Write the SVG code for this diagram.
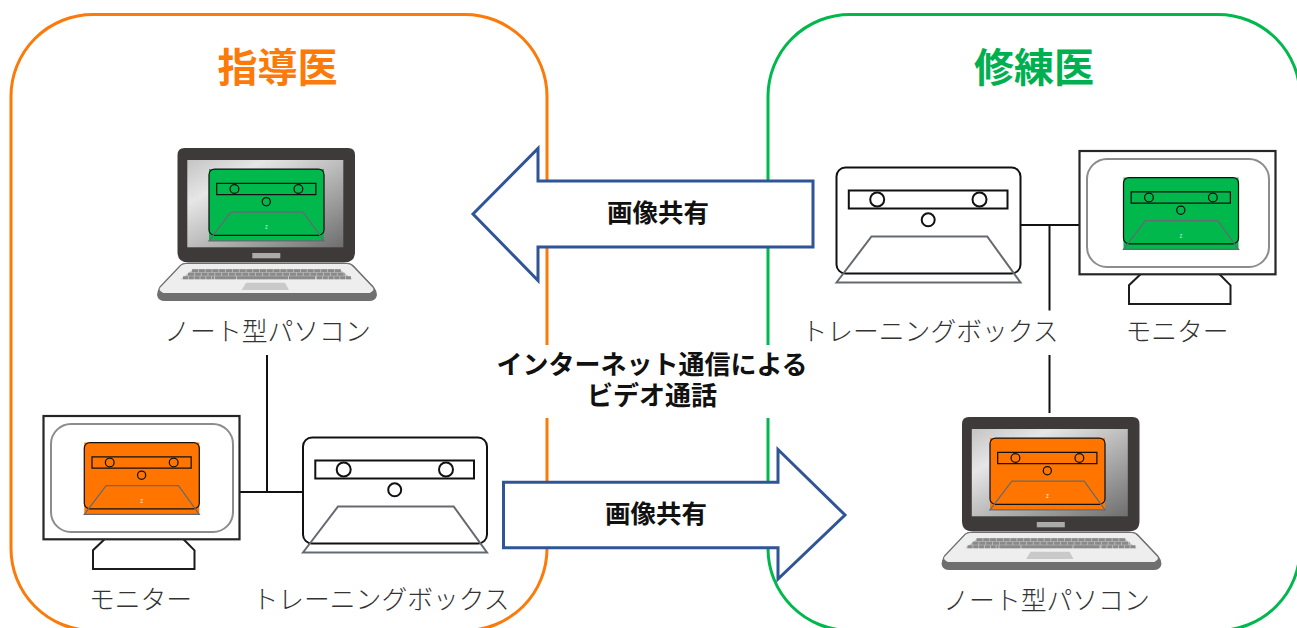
<svg xmlns="http://www.w3.org/2000/svg" width="1297" height="628" viewBox="0 0 1297 628">
  <style>
    text { font-family: "Noto Sans CJK JP", "Noto Sans", sans-serif; text-anchor: middle; }
    .panel { fill: none; stroke-width: 3; }
    .title { font-size: 40px; font-weight: 700; }
    .label { font-size: 25.8px; font-weight: 300; fill: #333; }
    .strong { font-size: 26px; font-weight: 700; fill: #111; }
    .share { font-size: 25.500px; font-weight: 600; fill: #111; }
    .wire { fill: none; stroke: #111; stroke-width: 2; }
    .arrow { fill: #fff; stroke: #2f5597; stroke-width: 3; stroke-linejoin: miter; }
    .frame { fill: #fff; stroke: #262626; stroke-width: 2.2; }
    .bezel { fill: #fff; stroke: #8c8c8c; stroke-width: 2; }
    .stand { fill: #fff; stroke: #1c1c1c; stroke-width: 2; }
    .keys { fill: none; stroke: #8a8a8a; stroke-width: 3; }
  </style>
  <defs>
    <linearGradient id="screenShade" x1="0" y1="0" x2="1" y2="1">
      <stop offset="0" stop-color="#c4c4c4"/>
      <stop offset="0.25" stop-color="#e6e6e6"/>
      <stop offset="1" stop-color="#6e6e6e"/>
    </linearGradient>
    <!-- Training box outline, drawn at full size -->
    <g id="box-art">
      <rect x="0" y="0" width="184" height="106" rx="9" fill="none" stroke="#111" stroke-width="2"/>
      <rect x="12.300" y="23" width="158.700" height="18" fill="none" stroke="#111" stroke-width="2"/>
      <circle cx="40.700" cy="32" r="7" fill="none" stroke="#111" stroke-width="2"/>
      <circle cx="143" cy="32" r="7" fill="none" stroke="#111" stroke-width="2"/>
      <circle cx="91.700" cy="52.300" r="6.500" fill="none" stroke="#111" stroke-width="2"/>
      <path d="M0 115 L35 69 H150.700 L184 115 Z" fill="none" stroke="#666a70" stroke-width="2"/>
    </g>
    <!-- Coloured camera view shown on the displays -->
    <g id="view-green">
      <rect width="115" height="72" fill="#00b84c"/>
      <use href="#box-art" transform="scale(0.625)"/>
      <text x="57.500" y="60" font-size="6" fill="#a8f0e0">z</text>
    </g>
    <g id="view-orange">
      <rect width="115" height="72" fill="#ff7500"/>
      <use href="#box-art" transform="scale(0.625)"/>
      <text x="57.500" y="60" font-size="6" fill="#ffe8d8">z</text>
    </g>
    <!-- Notebook computer body -->
    <g id="laptop-body">
      <path d="M185 263 L348 263 Q352 263 356 268 L374 287 Q377 291 377 295 Q376 301 369 301 H165 Q158 301 157 295 Q157 291 160 287 L178 268 Q181 263 185 263 Z" fill="#6f6f6f"/>
      <path d="M186 263.500 L347 263.500 Q351 263.500 354 267 L373 287 Q376 291 370 293.500 H163 Q157 291 160 287 L179 267 Q182 263.500 186 263.500 Z" fill="#eeeeee" stroke="#6f6f6f" stroke-width="1.200"/>
      <path d="M184.500 148 H348 Q355 148 355 155 V252 Q355 262.500 344 262.500 H188.500 Q177.500 262.500 177.500 252 V155 Q177.500 148 184.500 148 Z" fill="#3e3a39"/>
      <rect x="187.300" y="160" width="156" height="87.300" fill="url(#screenShade)"/>
      <rect x="252.300" y="253" width="28" height="5.300" fill="#ababab"/>
      <path d="M193.300 269 H339.300 L352.300 279.300 H180.700 Z" fill="#c2c2c2"/>
      <path class="keys" stroke-dasharray="6 0.800" d="M192 270.700 H341"/>
      <path class="keys" stroke-dasharray="6 0.800" d="M188 274.200 H345"/>
      <path class="keys" stroke-dasharray="5 0.800" d="M183 277.700 H214 M351 277.700 H316"/>
      <path class="keys" d="M215 277.700 H236 M237 277.700 H288 M289 277.700 H315"/>
      <path d="M246 282.700 H285 L289 290 H241.700 Z" fill="#c9c9c9"/>
    </g>
    <!-- Desktop monitor shell, positioned from its top-left corner -->
    <g id="monitor-shell">
      <path class="stand" d="M61 123.300 L49.500 134.300 V153 H151 V134.300 L140 123.300"/>
      <rect class="frame" x="0" y="0" width="196" height="123.300"/>
      <rect class="bezel" x="7.500" y="8" width="182" height="108" rx="20"/>
    </g>
  </defs>

  <g id="panels">
    <rect class="panel" x="11" y="14.500" width="536" height="616" rx="82" stroke="#fb7a0a"/>
    <rect class="panel" x="768" y="14.500" width="532" height="616" rx="82" stroke="#00b84c"/>
    <rect x="495" y="345" width="315" height="73" fill="#fff"/>
  </g>

  <g id="connectors">
    <path class="wire" d="M267 355 V492 M239 492 H303"/>
    <path class="wire" d="M1021 225 H1079 M1049.500 225 V310.500 M1049.500 355 V413"/>
  </g>

  <g id="mentor-title">
    <text class="title" x="277.500" y="82" fill="#fb7a0a">指導医</text>
  </g>
  <g id="trainee-title">
    <text class="title" x="1034" y="82" fill="#00b050">修練医</text>
  </g>

  <g id="mentor-laptop">
    <use href="#laptop-body"/>
    <use href="#view-green" transform="translate(209 169)"/>
    <text class="label" x="267.500" y="341">ノート型パソコン</text>
  </g>
  <g id="mentor-monitor">
    <use href="#monitor-shell" transform="translate(43.500 416)"/>
    <use href="#view-orange" transform="translate(84.300 442.500)"/>
    <text class="label" x="140.500" y="609">モニター</text>
  </g>
  <g id="mentor-box">
    <use href="#box-art" transform="translate(303 437.500)"/>
    <text class="label" x="381" y="609">トレーニングボックス</text>
  </g>

  <g id="trainee-box">
    <use href="#box-art" transform="translate(836.500 167.500)"/>
    <text class="label" x="930" y="341">トレーニングボックス</text>
  </g>
  <g id="trainee-monitor">
    <use href="#monitor-shell" transform="translate(1079.500 151)"/>
    <use href="#view-green" transform="translate(1123.500 177.500)"/>
    <text class="label" x="1177" y="341">モニター</text>
  </g>
  <g id="trainee-laptop">
    <use href="#laptop-body" transform="translate(784.500 269)"/>
    <use href="#view-orange" transform="translate(990 438)"/>
    <text class="label" x="1046.500" y="610">ノート型パソコン</text>
  </g>

  <g id="share-to-mentor">
    <path class="arrow" d="M473 214 L538 148.500 V181 H813 V247 H538 L538 280.500 Z"/>
    <text class="share" x="658" y="222">画像共有</text>
  </g>
  <g id="share-to-trainee">
    <path class="arrow" d="M503.500 482.300 H778 V449.500 L845 515 L778 579 V547.700 H503.500 Z"/>
    <text class="share" x="656" y="523">画像共有</text>
  </g>

  <g id="call-caption">
    <text class="strong"><tspan x="652" y="374">インターネット通信による</tspan><tspan x="652" y="405">ビデオ通話</tspan></text>
  </g>
</svg>
